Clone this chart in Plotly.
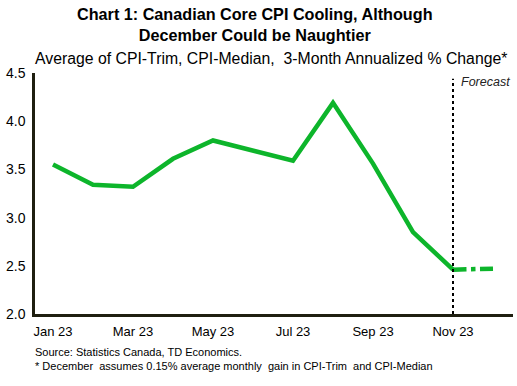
import plotly.graph_objects as go

months = ["Jan 23", "Feb 23", "Mar 23", "Apr 23", "May 23", "Jun 23",
          "Jul 23", "Aug 23", "Sep 23", "Oct 23", "Nov 23", "Dec 23"]
actual = [3.55, 3.34, 3.32, 3.61, 3.80, 3.70, 3.59, 4.19, 3.56, 2.85, 2.46]
forecast_months = ["Nov 23", "Dec 23"]
forecast = [2.46, 2.47]
tick_labels = ["Jan 23", "Mar 23", "May 23", "Jul 23", "Sep 23", "Nov 23"]
y_ticks = [2.0, 2.5, 3.0, 3.5, 4.0, 4.5]

idx = {m: i for i, m in enumerate(months)}
GREEN = "#0DB52B"
AXIS = "#1F1F10"
FONT = "Liberation Sans, Arial, sans-serif"
W, H = 517, 386
L, R, T, B = 35, 4, 73, 72
PH = H - T - B


def py(p):
    """pixel from top -> paper y"""
    return (H - B - p) / PH


fig = go.Figure()
fig.add_trace(go.Scatter(x=[idx[m] for m in months[:len(actual)]], y=actual,
                         mode="lines", line=dict(color=GREEN, width=4.5),
                         hoverinfo="skip"))
fig.add_trace(go.Scatter(x=[idx[m] for m in forecast_months], y=forecast,
                         mode="lines", line=dict(color=GREEN, width=4.5, dash="dashdot"),
                         hoverinfo="skip"))

fig.add_shape(type="line", x0=idx["Nov 23"], x1=idx["Nov 23"], y0=2.0, y1=4.44,
              xref="x", yref="y", line=dict(color="black", width=2, dash="dot"))
fig.add_annotation(x=idx["Nov 23"], y=4.5, xref="x", yref="y", text="<i>Forecast</i>",
                   showarrow=False, xanchor="left", yanchor="middle", xshift=6, yshift=-9,
                   font=dict(family=FONT, size=12.5, color="#222"))

fig.update_layout(
    width=W, height=H,
    margin=dict(l=L, r=R, t=T, b=B),
    paper_bgcolor="white", plot_bgcolor="white",
    showlegend=False,
    font=dict(family=FONT, size=13, color="black"),
    xaxis=dict(range=[-0.45, 11.5], tickvals=[idx[m] for m in tick_labels], ticktext=tick_labels,
               showgrid=False, zeroline=False, showline=True, linecolor=AXIS, linewidth=2.5,
               ticks="outside", ticklen=4, tickcolor="rgba(0,0,0,0)",
               tickfont=dict(size=13), fixedrange=True),
    yaxis=dict(range=[2.0, 4.5], tickvals=y_ticks, tickformat=".1f",
               showgrid=False, zeroline=False, showline=True, linecolor=AXIS, linewidth=2.5,
               ticks="outside", ticklen=4, tickcolor="rgba(0,0,0,0)",
               tickfont=dict(size=14), fixedrange=True),
)

# title
fig.add_annotation(x=(255 - L) / (W - L - R), y=py(3), xref="paper", yref="paper",
                   xanchor="center", yanchor="top", showarrow=False, align="center",
                   text="<b>Chart 1: Canadian Core CPI Cooling, Although<br>December Could be Naughtier</b>",
                   font=dict(family=FONT, size=16.2, color="black"))
fig.add_annotation(x=0, y=1, xref="paper", yref="paper", xanchor="left", yanchor="bottom",
                   text="Average of CPI-Trim, CPI-Median,  3-Month Annualized % Change*",
                   showarrow=False, yshift=4, xshift=-2, font=dict(family=FONT, size=15.8, color="black"))
fig.add_annotation(x=0, y=0, xref="paper", yref="paper", xanchor="left", yanchor="top",
                   text="Source: Statistics Canada, TD Economics.<br>* December  assumes 0.15% average monthly  gain in CPI-Trim  and CPI-Median",
                   align="left", showarrow=False, xshift=-2, yshift=-30,
                   font=dict(family=FONT, size=11, color="black"))

fig.write_html("out.html", config={"displayModeBar": False},
               post_script="document.body.style.margin='0';document.body.style.overflow='hidden';")
